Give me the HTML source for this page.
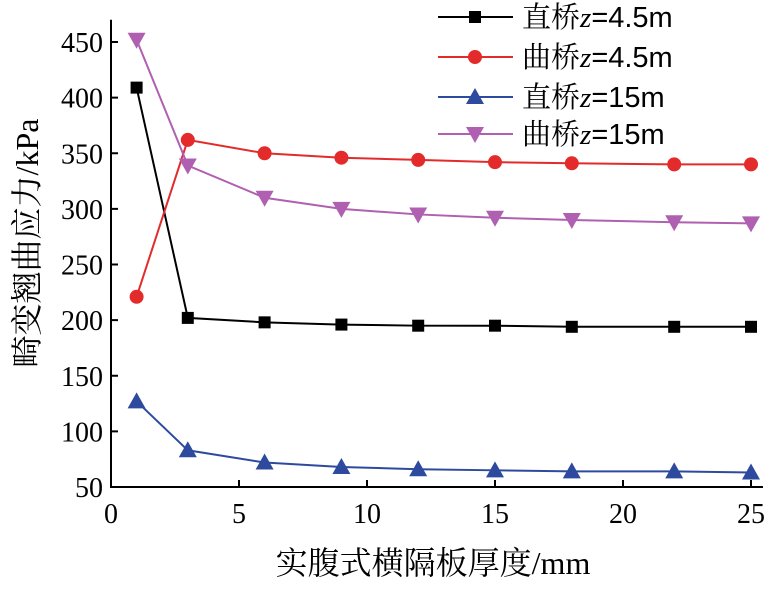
<!DOCTYPE html>
<html><head><meta charset="utf-8"><style>
body{margin:0;background:#fff}
svg text{font-family:"Liberation Serif","Noto Serif CJK SC",serif;fill:#000}
</style></head><body>
<svg id="c" width="772" height="588"></svg>
<script>
const xs=[1,3,6,9,12,15,18,22,25];
const sBlack=[409,202,198,196,195,195,194,194,194];
const sRed=[221,362,350,346,344,342,341,340,340];
const sBlue=[127,83,72,68,66,65,64,64,63];
const sPurple=[452,339,310,300,295,292,290,288,287];
const xTicks=[0,5,10,15,20,25];
const yTicks=[50,100,150,200,250,300,350,400,450];
const names=["直桥","曲桥","直桥","曲桥"];
const depths=["=4.5m","=4.5m","=15m","=15m"];
const NS="http://www.w3.org/2000/svg";
const svg=document.getElementById('c');
const X=v=>111+v*25.6, Y=v=>487-(v-50)*445/400;
function mk(t,a,p){const e=document.createElementNS(NS,t);for(const k in a)e.setAttribute(k,a[k]);(p||svg).appendChild(e);return e;}
let ax=mk('path',{d:`M111,${Y(470)}V487H${X(25)+12}`,stroke:'#000','stroke-width':2,fill:'none'});


xTicks.forEach(v=>{
 let l=mk('line',{x1:X(v),x2:X(v),y1:487,y2:480,stroke:'#000','stroke-width':2});
 
 
 let t=mk('text',{x:X(v),y:523,'text-anchor':'middle','font-size':28});t.textContent=v;
 
 
});
yTicks.forEach(v=>{
 let l=mk('line',{x1:111,x2:118,y1:Y(v),y2:Y(v),stroke:'#000','stroke-width':2});
 
 
 let t=mk('text',{x:103,y:Y(v)+10,'text-anchor':'end','font-size':28});t.textContent=v;
 
 
});
let xt=mk('text',{x:433,y:574,'text-anchor':'middle','font-size':32});xt.textContent='实腹式横隔板厚度/mm';


let yt=mk('text',{x:0,y:0,'text-anchor':'middle','font-size':32,transform:'translate(38,243) rotate(-90)'});yt.textContent='畸变翘曲应力/kPa';


function marker(type,x,y,col,g){
 if(type==='sq')return mk('rect',{x:x-6,y:y-6,width:12,height:12,fill:col},g);
 if(type==='ci')return mk('circle',{cx:x,cy:y,r:7,fill:col},g);
 if(type==='up')return mk('polygon',{points:`${x},${y-9} ${x-9},${y+7} ${x+9},${y+7}`,fill:col},g);
 return mk('polygon',{points:`${x},${y+9} ${x-9},${y-7} ${x+9},${y-7}`,fill:col},g);
}
const series=[[sBlack,'#000','sq'],[sRed,'#e32b2b','ci'],[sBlue,'#2e4a9e','up'],[sPurple,'#b060b0','dn']];
series.forEach(([d,col,m],i)=>{
 let g=mk('g',{});
 
 
 mk('polyline',{points:d.map((v,j)=>X(xs[j])+','+Y(v)).join(' '),fill:'none',stroke:col,'stroke-width':2},g);
 d.forEach((v,j)=>{let p=marker(m,X(xs[j]),Y(v),col,g);
  
  });
 let ly=[17,57,97,134][i];
 let lg=mk('g',{});
 
 
 mk('line',{x1:438,x2:513,y1:ly,y2:ly,stroke:col,'stroke-width':2},lg);
 marker(m,475,ly,col,lg);
 let t=mk('text',{x:522,y:ly+10,'font-size':29},lg);
 let a=mk('tspan',{},t);a.textContent=names[i];
 let b=mk('tspan',{'font-style':'italic'},t);b.textContent='z';
 let c=mk('tspan',{'font-family':'Liberation Sans, sans-serif'},t);c.textContent=depths[i];
});
</script>
</body></html>
